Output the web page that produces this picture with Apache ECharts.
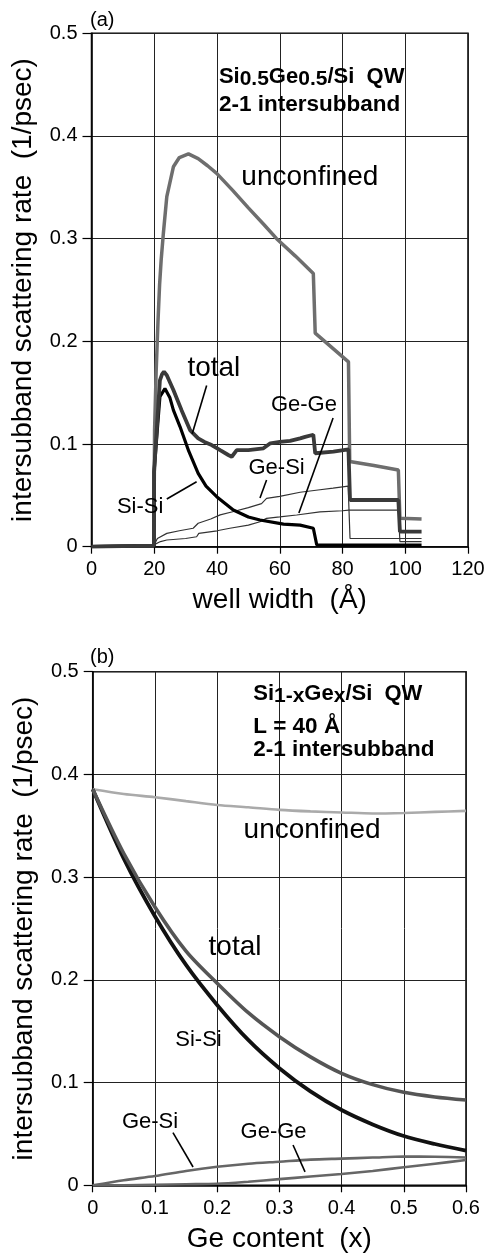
<!DOCTYPE html>
<html>
<head>
<meta charset="utf-8">
<script src="https://cdn.jsdelivr.net/npm/echarts@6/dist/echarts.min.js"></script>
<style>
  html, body { margin: 0; padding: 0; background: #fff; }
  #main { width: 486px; height: 1255px; }
</style>
</head>
<body>
<div id="main"></div>
<script>
// ---- panel (a): rate vs well width, Si0.5Ge0.5/Si ----
var wwUnconf = [0, 19.9, 20.1, 20.6, 21.2, 21.7, 22.2, 22.9, 24, 26.1, 28, 30.9, 34, 37, 39.9, 45, 50, 55, 59, 65, 70.7, 71.3, 81.9, 82.3, 90, 97.8, 98.3, 105.2];
var rateUnconfA = [0, 0.001, 0.113, 0.17, 0.22, 0.255, 0.279, 0.305, 0.341, 0.370, 0.379, 0.3825, 0.378, 0.371, 0.3636, 0.347, 0.330, 0.3135, 0.300, 0.283, 0.266, 0.208, 0.180, 0.083, 0.079, 0.0747, 0.0277, 0.027];

var wwTotal = [0, 19.9, 19.95, 21, 21.8, 22.5, 23.1, 24, 26.1, 28.7, 31.4, 34, 36, 38.3, 41, 43.6, 44.7, 46.3, 50, 54.8, 57, 60, 63.3, 66.5, 68.1, 70.7, 71.3, 77.1, 81.9, 82.4, 97.8, 98.3, 105.2];
var rateTotalA = [0, 0.001, 0.073, 0.124, 0.162, 0.168, 0.1704, 0.167, 0.1526, 0.133, 0.1136, 0.1055, 0.102, 0.099, 0.094, 0.0893, 0.0876, 0.094, 0.094, 0.0958, 0.1007, 0.102, 0.103, 0.1055, 0.107, 0.109, 0.091, 0.0925, 0.0948, 0.0455, 0.0455, 0.0146, 0.0146];

var wwSiSi = [0, 19.9, 19.95, 21, 21.8, 23.4, 25, 26.1, 28.2, 31, 34, 36.5, 39.9, 45.2, 50, 53.7, 61.2, 66.5, 70.7, 71.8, 105.2];
var rateSiSiA = [0, 0.001, 0.073, 0.115, 0.146, 0.154, 0.145, 0.133, 0.117, 0.093, 0.0714, 0.059, 0.0487, 0.0357, 0.029, 0.026, 0.022, 0.021, 0.018, 0.0017, 0.0015];

var wwGeSi = [20, 21, 24, 28, 32.4, 34, 38, 41, 45, 50, 54.2, 55.8, 60, 66.5, 72.2, 77, 81.8, 82.4, 105.2];
var rateGeSiA = [0.002, 0.008, 0.013, 0.0155, 0.018, 0.0228, 0.027, 0.031, 0.034, 0.038, 0.042, 0.047, 0.049, 0.053, 0.0552, 0.057, 0.059, 0.008, 0.008];

var wwGeGe = [20, 22, 24, 30, 33.5, 34.2, 40, 44.1, 50, 53.7, 55.8, 60, 65.4, 72.8, 80, 82, 97.8, 98.3, 105.2];
var rateGeGeA = [0.002, 0.005, 0.0065, 0.008, 0.0097, 0.0129, 0.0155, 0.018, 0.021, 0.0243, 0.0276, 0.029, 0.0309, 0.034, 0.035, 0.0357, 0.0357, 0.005, 0.005];

// ---- panel (b): rate vs Ge content, L = 40 A ----
var geContent = [0, 0.05, 0.1, 0.15, 0.2, 0.25, 0.3, 0.35, 0.4, 0.45, 0.5, 0.55, 0.6];
var unconfB = [0.3856, 0.381, 0.3778, 0.374, 0.3703, 0.368, 0.3655, 0.364, 0.363, 0.362, 0.3625, 0.3635, 0.3645];
var totalB = [0.3856, 0.323, 0.271, 0.228, 0.1967, 0.168, 0.1447, 0.125, 0.109, 0.098, 0.0905, 0.086, 0.083];
var siSiB = [0.3856, 0.318, 0.262, 0.2145, 0.1756, 0.1415, 0.114, 0.0914, 0.0733, 0.0593, 0.048, 0.0402, 0.0337];
var geSiB = [0, 0.005, 0.009, 0.014, 0.018, 0.021, 0.023, 0.025, 0.026, 0.027, 0.028, 0.0278, 0.027];
var geGeB = [0, 0.0001, 0.0005, 0.001, 0.0015, 0.0035, 0.006, 0.0085, 0.011, 0.014, 0.0175, 0.021, 0.0246];

var FONT = "'Liberation Sans', Arial, Helvetica, sans-serif";

function pairs(xs, ys) {
  return xs.map(function (x, i) { return [x, ys[i]]; });
}

function line(name, g, data, color, width, smooth) {
  return {
    name: name,
    type: "line",
    xAxisIndex: g,
    yAxisIndex: g,
    data: data,
    showSymbol: false,
    symbol: "none",
    smooth: smooth || false,
    lineStyle: { color: color, width: width },
    z: 3,
  };
}

function xAxis(g, max, interval, name) {
  return {
    gridIndex: g,
    type: "value",
    min: 0,
    max: max,
    interval: interval,
    name: name,
    nameLocation: "middle",
    nameGap: 40,
    nameTextStyle: { fontSize: 28, fontFamily: FONT, color: "#000" },
    axisLine: { show: true, onZero: false, lineStyle: { color: "#000", width: 1.5 } },
    axisTick: { show: true, inside: false, length: 7, lineStyle: { color: "#000", width: 1.2 } },
    axisLabel: { fontSize: 20, fontFamily: FONT, color: "#000", margin: 13, showMinLabel: true, showMaxLabel: true },
    splitLine: { show: true, lineStyle: { color: "#222", width: 1 } },
  };
}

function yAxis(g) {
  return {
    gridIndex: g,
    type: "value",
    min: 0,
    max: 0.5,
    interval: 0.1,
    name: "intersubband scattering rate  (1/psec)",
    nameLocation: "middle",
    nameGap: 54,
    nameTextStyle: { fontSize: 28, fontFamily: FONT, color: "#000" },
    axisLine: { show: true, onZero: false, lineStyle: { color: "#000", width: 1.5 } },
    axisTick: { show: true, inside: false, length: 9, lineStyle: { color: "#000", width: 1.2 } },
    axisLabel: { fontSize: 20, fontFamily: FONT, color: "#000", margin: 14, showMinLabel: true, showMaxLabel: true },
    splitLine: { show: true, lineStyle: { color: "#222", width: 1 } },
  };
}

var mychart = echarts.init(document.getElementById("main"), null, { renderer: "canvas" });

var option = {
  animation: false,
  backgroundColor: "#fff",
  grid: [
    { left: 91.5, right: 18, top: 33.3, height: 513.4, show: true, borderColor: "#000", borderWidth: 1.5, containLabel: false, outerBoundsMode: "none" },
    { left: 92.7, right: 20, top: 671.7, height: 513.6, show: true, borderColor: "#000", borderWidth: 1.5, containLabel: false, outerBoundsMode: "none" },
  ],
  xAxis: [xAxis(0, 120, 20, "well width  (Å)"), xAxis(1, 0.6, 0.1, "Ge content  (x)")],
  yAxis: [yAxis(0), yAxis(1)],
  series: [
    line("unconfined", 0, pairs(wwUnconf, rateUnconfA), "#6e6e6e", 3.5),
    line("Ge-Si", 0, pairs(wwGeSi, rateGeSiA), "#333", 1.2),
    line("Ge-Ge", 0, pairs(wwGeGe, rateGeGeA), "#333", 1.2),
    line("Si-Si", 0, pairs(wwSiSi, rateSiSiA), "#000", 3.2),
    line("total", 0, pairs(wwTotal, rateTotalA), "#3a3a3a", 3.8),

    line("unconfined", 1, pairs(geContent, unconfB), "#aaa", 2.6, 0.3),
    line("Ge-Si", 1, pairs(geContent, geSiB), "#666", 2.6, 0.3),
    line("Ge-Ge", 1, pairs(geContent, geGeB), "#666", 2.6, 0.3),
    line("Si-Si", 1, pairs(geContent, siSiB), "#111", 3.8, 0.3),
    line("total", 1, pairs(geContent, totalB), "#555", 3.6, 0.3),
  ],
};
mychart.setOption(option);

// annotations, placed in data coordinates of each panel
var notes = [
  { g: 0, text: "unconfined", at: [69.6, 0.36], size: 28 },
  { g: 0, text: "total", at: [39, 0.174], size: 28 },
  { g: 0, text: "Ge-Ge", at: [67.7, 0.138], size: 22 },
  { g: 0, text: "Ge-Si", at: [59, 0.0766], size: 22 },
  { g: 0, text: "Si-Si", at: [15.5, 0.0387], size: 22 },
  { g: 1, text: "unconfined", at: [0.3526, 0.346], size: 28 },
  { g: 1, text: "total", at: [0.2288, 0.232], size: 28 },
  { g: 1, text: "Si-Si", at: [0.17, 0.1415], size: 22 },
  { g: 1, text: "Ge-Si", at: [0.0921, 0.0616], size: 22 },
  { g: 1, text: "Ge-Ge", at: [0.2907, 0.0519], size: 22 },
];
var leaders = [
  { g: 0, from: [36.7, 0.157], to: [32.1, 0.110] },
  { g: 0, from: [77, 0.1253], to: [66.1, 0.0328] },
  { g: 0, from: [55.8, 0.065], to: [53.7, 0.0474] },
  { g: 0, from: [24, 0.0464], to: [33.5, 0.0633] },
  { g: 1, from: [0.129, 0.0513], to: [0.1613, 0.0178] },
  { g: 1, from: [0.322, 0.0392], to: [0.3413, 0.013] },
];

function px(g, p) {
  return mychart.convertToPixel({ gridIndex: g }, p);
}

var bold = { fontSize: 22, fontWeight: "bold", fontFamily: FONT, fill: "#000", verticalAlign: "top", lineHeight: 24 };
var sub = { fontSize: 21, fontWeight: "bold", fontFamily: FONT, fill: "#000", verticalAlign: "bottom", lineHeight: 24, padding: [10, 0, 0, 0] };

var graphic = [];
notes.forEach(function (n) {
  var p = px(n.g, n.at);
  graphic.push({
    type: "text",
    x: p[0],
    y: p[1],
    z: 10,
    style: { text: n.text, fontSize: n.size, fontFamily: FONT, fill: "#000", align: "center", verticalAlign: "middle" },
  });
});
leaders.forEach(function (l) {
  var a = px(l.g, l.from);
  var b = px(l.g, l.to);
  graphic.push({
    type: "line",
    z: 10,
    shape: { x1: a[0], y1: a[1], x2: b[0], y2: b[1] },
    style: { stroke: "#000", lineWidth: 1.6 },
  });
});

// panel titles
var t1 = px(0, [40.6, 0.457]);
graphic.push({
  type: "text", x: t1[0], y: t1[1], z: 10,
  style: { text: "{n|Si}{s|0.5}{n|Ge}{s|0.5}{n|/Si  QW}", rich: { n: bold, s: sub }, align: "left", verticalAlign: "middle" },
});
var t2 = px(0, [40.6, 0.430]);
graphic.push({
  type: "text", x: t2[0], y: t2[1], z: 10,
  style: { text: "2-1 intersubband", fontSize: 22.5, fontWeight: "bold", fontFamily: FONT, fill: "#000", align: "left", verticalAlign: "middle" },
});
var t3 = px(1, [0.258, 0.4775]);
graphic.push({
  type: "text", x: t3[0], y: t3[1], z: 10,
  style: { text: "{n|Si}{s|1-x}{n|Ge}{s|x}{n|/Si  QW}", rich: { n: bold, s: sub }, align: "left", verticalAlign: "middle" },
});
var t4 = px(1, [0.258, 0.446]);
graphic.push({
  type: "text", x: t4[0], y: t4[1], z: 10,
  style: { text: "L = 40 Å", fontSize: 22.5, fontWeight: "bold", fontFamily: FONT, fill: "#000", align: "left", verticalAlign: "middle" },
});
var t5 = px(1, [0.258, 0.4236]);
graphic.push({
  type: "text", x: t5[0], y: t5[1], z: 10,
  style: { text: "2-1 intersubband", fontSize: 22.5, fontWeight: "bold", fontFamily: FONT, fill: "#000", align: "left", verticalAlign: "middle" },
});

// panel tags
graphic.push({
  type: "text", x: 90, y: 20, z: 10,
  style: { text: "(a)", fontSize: 20, fontFamily: FONT, fill: "#000", align: "left", verticalAlign: "middle" },
});
graphic.push({
  type: "text", x: 90, y: 657, z: 10,
  style: { text: "(b)", fontSize: 20, fontFamily: FONT, fill: "#000", align: "left", verticalAlign: "middle" },
});

mychart.setOption({ graphic: graphic });
</script>
</body>
</html>
